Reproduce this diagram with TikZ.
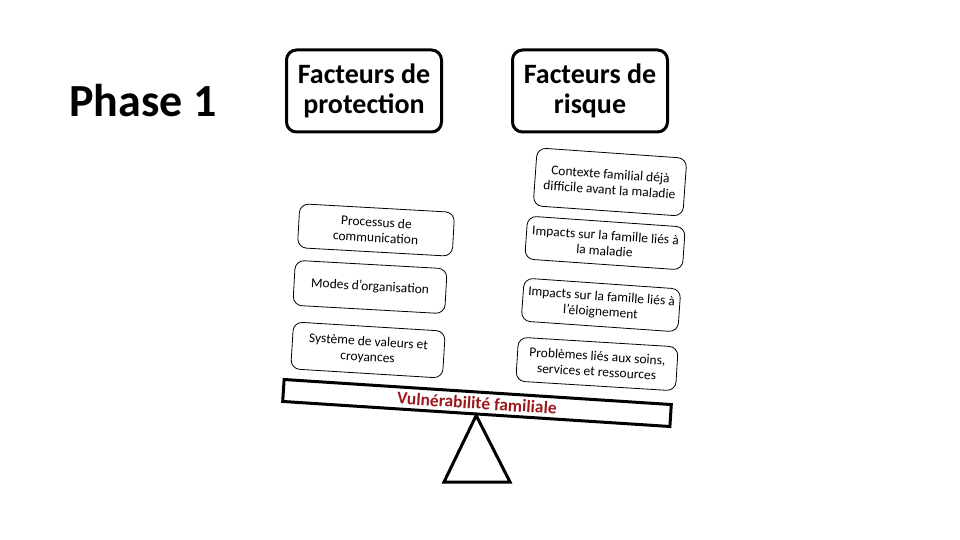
\documentclass[tikz,border=0pt]{standalone}
\usepackage{fontspec}
\setmainfont{Carlito}
\usepackage{xcolor}
\usepackage{tikz}

\definecolor{vulnred}{RGB}{155,25,30}

\tikzset{
	titlebox/.style={draw, line width=3pt, rounded corners=10pt, minimum width=155pt, minimum height=82pt,
		align=center, inner sep=2pt, font=\bfseries\fontsize{28}{30}\selectfont},
	factorbox/.style={draw, line width=0.8pt, rounded corners=9pt, align=center, inner sep=2pt,
		font=\fontsize{13.5}{15.5}\selectfont},
}

\begin{document}
\begin{tikzpicture}[x=1pt, y=-1pt]
			\useasboundingbox (0,0) rectangle (960,540);
			
			\node[font=\bfseries\fontsize{46}{46}\selectfont] (phase) at (143,101) {Phase 1};
			\node[titlebox] (protection) at (364,91) {Facteurs de\\protection};
			\node[titlebox] (risque) at (590,91) {Facteurs de\\risque};
			
			% facteurs de protection
			\node[factorbox, minimum width=155pt, minimum height=44pt, rotate=-3.2] (comm) at (376,230) {Processus de\\communication};
			\node[factorbox, minimum width=152pt, minimum height=45pt, rotate=-3.2] (orga) at (370,287) {Modes d’organisation};
			\node[factorbox, minimum width=152pt, minimum height=47pt, rotate=-3.5] (valeurs) at (368,350) {Système de valeurs et\\croyances};
			
			% facteurs de risque
			\node[factorbox, minimum width=150pt, minimum height=58pt, rotate=-4] (contexte) at (610,182) {Contexte familial déjà\\difficile avant la maladie};
			\node[factorbox, minimum width=158pt, minimum height=43pt, rotate=-4] (maladie) at (605,243) {Impacts sur la famille liés à\\la maladie};
			\node[factorbox, minimum width=157pt, minimum height=43pt, rotate=-4] (eloign) at (601,305) {Impacts sur la famille liés à\\l’éloignement};
			\node[factorbox, minimum width=160pt, minimum height=44pt, rotate=-3.5] (soins) at (597,364) {Problèmes liés aux soins,\\services et ressources};
			
			\node[draw, line width=3pt, minimum width=388pt, minimum height=22pt, rotate=-3.7,
				text=vulnred, font=\bfseries\fontsize{17.5}{17.5}\selectfont] (beam) at (477,403) {Vulnérabilité familiale};
			
			\coordinate (baseL) at (444,482);
			\coordinate (baseR) at (510,482);
			\draw[line width=3pt, line join=miter] (beam.south) -- (baseR) -- (baseL) -- cycle;
		\end{tikzpicture}
\end{document}
